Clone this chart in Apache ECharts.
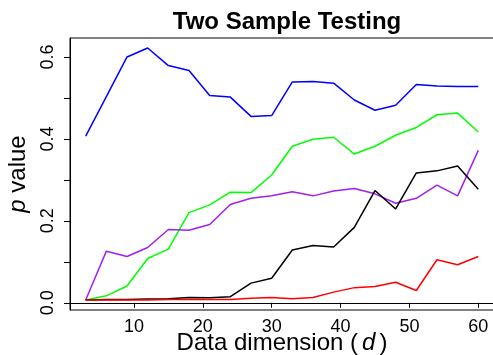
<!DOCTYPE html>
<html>
<head>
<meta charset="utf-8">
<script src="https://cdn.jsdelivr.net/npm/echarts@6/dist/echarts.min.js"></script>
<style>
  html, body { margin: 0; padding: 0; background: #fff; }
  #chart { width: 493px; height: 355px; }
</style>
</head>
<body>
<div id="chart"></div>
<script>
// data dimension d
const dims = [3, 6, 9, 12, 15, 18, 21, 24, 27, 30, 33, 36, 39, 42, 45, 48, 51, 54, 57, 60]

// p values per method
const blueVals = [0.407, 0.503, 0.600, 0.622, 0.579, 0.567, 0.506, 0.502, 0.455, 0.457,
  0.539, 0.540, 0.536, 0.495, 0.470, 0.482, 0.533, 0.529, 0.528, 0.528]
const greenVals = [0.007, 0.017, 0.041, 0.108, 0.131, 0.220, 0.239, 0.270, 0.269, 0.312,
  0.382, 0.399, 0.404, 0.363, 0.382, 0.409, 0.428, 0.459, 0.463, 0.417]
const purpleVals = [0.007, 0.126, 0.113, 0.135, 0.179, 0.177, 0.191, 0.240, 0.255, 0.261,
  0.271, 0.261, 0.273, 0.279, 0.266, 0.243, 0.255, 0.287, 0.261, 0.372]
const blackVals = [0.007, 0.008, 0.008, 0.009, 0.010, 0.013, 0.012, 0.015, 0.048, 0.060,
  0.129, 0.140, 0.136, 0.184, 0.274, 0.229, 0.317, 0.322, 0.334, 0.277]
const redVals = [0.007, 0.007, 0.007, 0.007, 0.008, 0.008, 0.008, 0.008, 0.011, 0.013,
  0.010, 0.013, 0.026, 0.037, 0.040, 0.050, 0.030, 0.105, 0.093, 0.113]

const xTickLabels = [10, 20, 30, 40, 50, 60]
const yTicks = [0, 0.1, 0.2, 0.3, 0.4, 0.5, 0.6]
const yTickLabels = [0, 0.2, 0.4, 0.6]

const font = 'Liberation Sans, Arial, Helvetica, sans-serif'

const pairs = (vals) => dims.map((d, i) => [d, vals[i]])
const line = (vals, color) => ({
  type: 'line',
  data: pairs(vals),
  symbol: 'none',
  lineStyle: { color: color, width: 1.5 },
  itemStyle: { color: color },
  animation: false
})

const chart = echarts.init(document.getElementById('chart'))
chart.setOption({
  animation: false,
  title: {
    text: 'Two Sample Testing',
    left: 282,
    textAlign: 'center',
    top: 5,
    textStyle: { fontFamily: font, fontSize: 24, fontWeight: 'bold', color: '#000' }
  },
  grid: {
    left: 70, top: 38, width: 424, height: 272,
    containLabel: false,
    outerBoundsMode: 'none',
    show: true, borderColor: '#000', borderWidth: 1, backgroundColor: 'transparent'
  },
  xAxis: {
    type: 'value',
    min: 0.72,
    max: 62.28,
    name: 'Data dimension ({i|d})',
    nameLocation: 'middle',
    nameGap: 21,
    nameMoveOverlap: false,
    nameTextStyle: {
      fontFamily: font, fontSize: 24, color: '#000',
      rich: { i: { fontFamily: font, fontSize: 24, fontStyle: 'italic', color: '#000', padding: [0, 4, 0, 4] } }
    },
    splitLine: { show: false },
    axisLine: { show: true, lineStyle: { color: '#000', width: 1 } },
    axisTick: { show: true, customValues: xTickLabels, length: 5, lineStyle: { color: '#000' } },
    axisLabel: {
      customValues: xTickLabels, margin: 8,
      fontFamily: font, fontSize: 18, color: '#000'
    }
  },
  yAxis: {
    type: 'value',
    min: -0.0176,
    max: 0.6463,
    name: '{i|p} value',
    nameLocation: 'middle',
    nameGap: 40,
    nameRotate: 90,
    nameMoveOverlap: false,
    nameTextStyle: {
      fontFamily: font, fontSize: 24, color: '#000',
      rich: { i: { fontFamily: font, fontSize: 24, fontStyle: 'italic', color: '#000' } }
    },
    splitLine: { show: false },
    axisLine: { show: true, lineStyle: { color: '#000', width: 1 } },
    axisTick: { show: true, customValues: yTicks, length: 6, lineStyle: { color: '#000' } },
    axisLabel: {
      customValues: yTickLabels, margin: 13, rotate: 90,
      formatter: (v) => v.toFixed(1),
      fontFamily: font, fontSize: 18, color: '#000'
    }
  },
  series: [
    line(blueVals, '#0000FF'),
    line(greenVals, '#00FF00'),
    line(purpleVals, '#A020F0'),
    line(blackVals, '#000000'),
    line(redVals, '#FF0000')
  ]
})
</script>
</body>
</html>
